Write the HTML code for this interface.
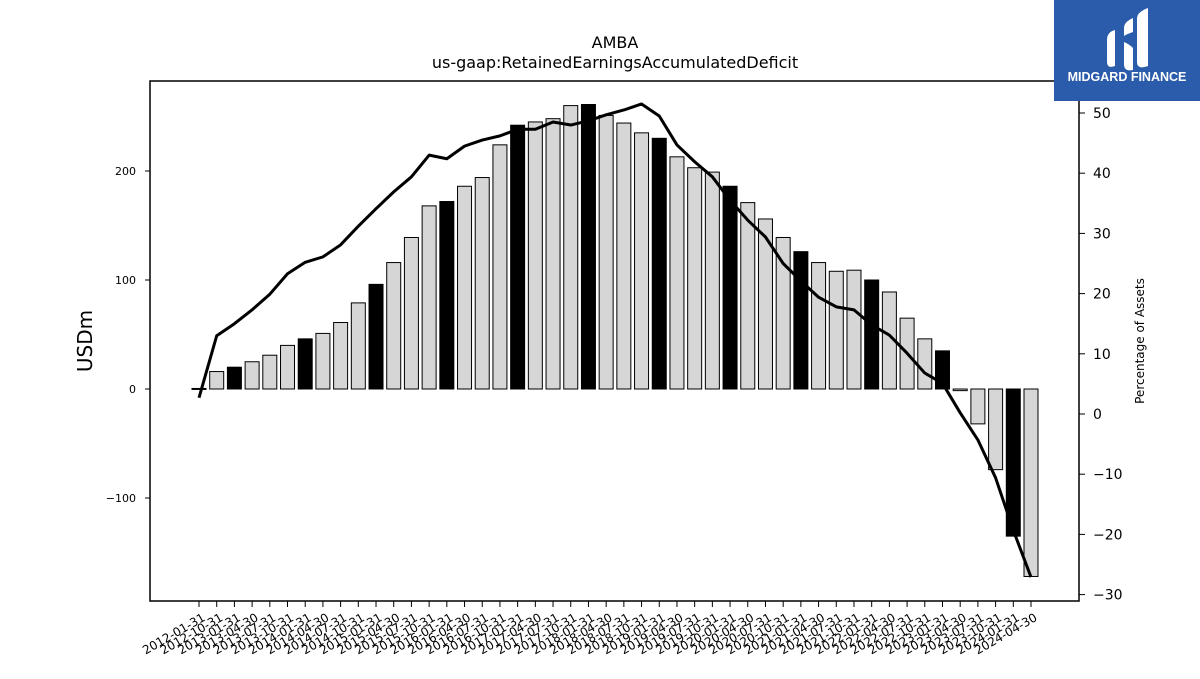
<!DOCTYPE html>
<html><head><meta charset="utf-8"><style>
body{margin:0;background:#fff;width:1200px;height:675px;overflow:hidden;font-family:"DejaVu Sans","Liberation Sans",sans-serif}
</style></head><body>
<svg id="chart" width="1200" height="675" xmlns="http://www.w3.org/2000/svg" font-family="DejaVu Sans, Liberation Sans, sans-serif">
<text x="615" y="48" font-size="16" text-anchor="middle">AMBA</text>
<text x="615" y="68" font-size="16" text-anchor="middle">us-gaap:RetainedEarningsAccumulatedDeficit</text>
<g id="bars"></g>
<g id="line"></g>
<rect x="150" y="81" width="929" height="520" fill="none" stroke="#000" stroke-width="1.5"/>
<g id="yleft"></g>
<g id="yright"></g>
<g id="xaxis"></g>
<text transform="translate(92,341) rotate(-90)" font-size="20" text-anchor="middle">USDm</text>
<text transform="translate(1144,341) rotate(-90)" font-size="12" text-anchor="middle">Percentage of Assets</text>
<g>
<rect x="1054" y="0" width="146" height="101" fill="#2b5bab"/>
<path d="M1107 40 q0-8 8-10 v36 q-8 3-8-4z M1124 28 q0-6 9-10 v14 q-6 2-9 4z M1124 42 q5 2 9 6 v22 q-9 2-9-6z M1137 18 q0-6 11-10 v58 q-11 4-11-4z" fill="#fff"/>
<text x="1127" y="81" font-size="12.5" font-weight="bold" fill="#fff" text-anchor="middle" font-family="Liberation Sans, sans-serif">MIDGARD FINANCE</text>
</g>
</svg>
<script>
const labels=["2012-01-31","2012-10-31","2013-01-31","2013-04-30","2013-07-31","2013-10-31","2014-01-31","2014-04-30","2014-07-31","2014-10-31","2015-01-31","2015-04-30","2015-07-31","2015-10-31","2016-01-31","2016-04-30","2016-07-31","2016-10-31","2017-01-31","2017-04-30","2017-07-31","2017-10-31","2018-01-31","2018-04-30","2018-07-31","2018-10-31","2019-01-31","2019-04-30","2019-07-31","2019-10-31","2020-01-31","2020-04-30","2020-07-31","2020-10-31","2021-01-31","2021-04-30","2021-07-31","2021-10-31","2022-01-31","2022-04-30","2022-07-31","2022-10-31","2023-01-31","2023-04-30","2023-07-31","2023-10-31","2024-01-31","2024-04-30"];
const retained=[0.5,16,20,25,31,40,46,51,61,79,96,116,139,168,172,186,194,224,242,245,248,260,261,251,244,235,230,213,203,199,186,171,156,139,126,116,108,109,100,89,65,46,35,-1.5,-32,-74,-135,-172];
const pctAssets=[2.7,13,15,17.3,19.9,23.3,25.2,26.1,28.1,31.2,34.1,36.9,39.4,43,42.4,44.5,45.5,46.2,47.3,47.3,48.5,48,48.7,49.7,50.5,51.5,49.5,44.7,41.9,39.4,35.5,32.2,29.4,25,22.1,19.4,17.8,17.3,14.8,13.1,10.1,6.8,5.1,0.2,-4.3,-10.6,-19.3,-27.1];
const fiscalYearEnd=[1,0,1,0,0,0,1,0,0,0,1,0,0,0,1,0,0,0,1,0,0,0,1,0,0,0,1,0,0,0,1,0,0,0,1,0,0,0,1,0,0,0,1,0,0,0,1,0];
const leftTicks=[-100,0,100,200];
const rightTicks=[-30,-20,-10,0,10,20,30,40,50];
const NS="http://www.w3.org/2000/svg";
const x=i=>199+i*(1031-199)/47;
const yL=v=>389-v*1.09;
const yR=v=>414-v*6.02;
function mk(t,a,p){const e=document.createElementNS(NS,t);for(const k in a)e.setAttribute(k,a[k]);p.appendChild(e);return e;}
const gb=document.getElementById('bars');
retained.forEach((v,i)=>{
 const y0=yL(0),y1=yL(v);
 const r=mk('rect',{x:x(i)-7,y:Math.min(y0,y1),width:14,height:Math.max(Math.abs(y1-y0),1),fill:fiscalYearEnd[i]?'#000':'#d6d6d6',stroke:'#000','stroke-width':1},gb);
 
 
});
const gl=document.getElementById('line');
const pl=mk('polyline',{points:pctAssets.map((v,i)=>x(i)+','+yR(v)).join(' '),fill:'none',stroke:'#000','stroke-width':3,'stroke-linejoin':'round'},gl);


const gyl=document.getElementById('yleft');
leftTicks.forEach(v=>{
 const y=yL(v);
 const t=mk('line',{x1:145,x2:150,y1:y,y2:y,stroke:'#000'},gyl);
 
 
 const s=mk('text',{x:136,y:y+4,'font-size':11,'text-anchor':'end'},gyl);
 s.textContent=v<0?'\u2212'+(-v):v;
 
 
});
const gyr=document.getElementById('yright');
rightTicks.forEach(v=>{
 const y=yR(v);
 const t=mk('line',{x1:1079,x2:1085,y1:y,y2:y,stroke:'#000'},gyr);
 
 
 const s=mk('text',{x:1093,y:y+5,'font-size':14,'text-anchor':'start'},gyr);
 s.textContent=v<0?'\u2212'+(-v):v;
 
 
});
const gx=document.getElementById('xaxis');
labels.forEach((l,i)=>{
 const t=mk('line',{x1:x(i),x2:x(i),y1:601,y2:607,stroke:'#000'},gx);
 
 
 const s=mk('text',{transform:`translate(${x(i)+3},${613}) rotate(-30)`,'font-size':12,'text-anchor':'end',y:8},gx);
 s.textContent=l;
 
 
});
</script>
</body></html>
